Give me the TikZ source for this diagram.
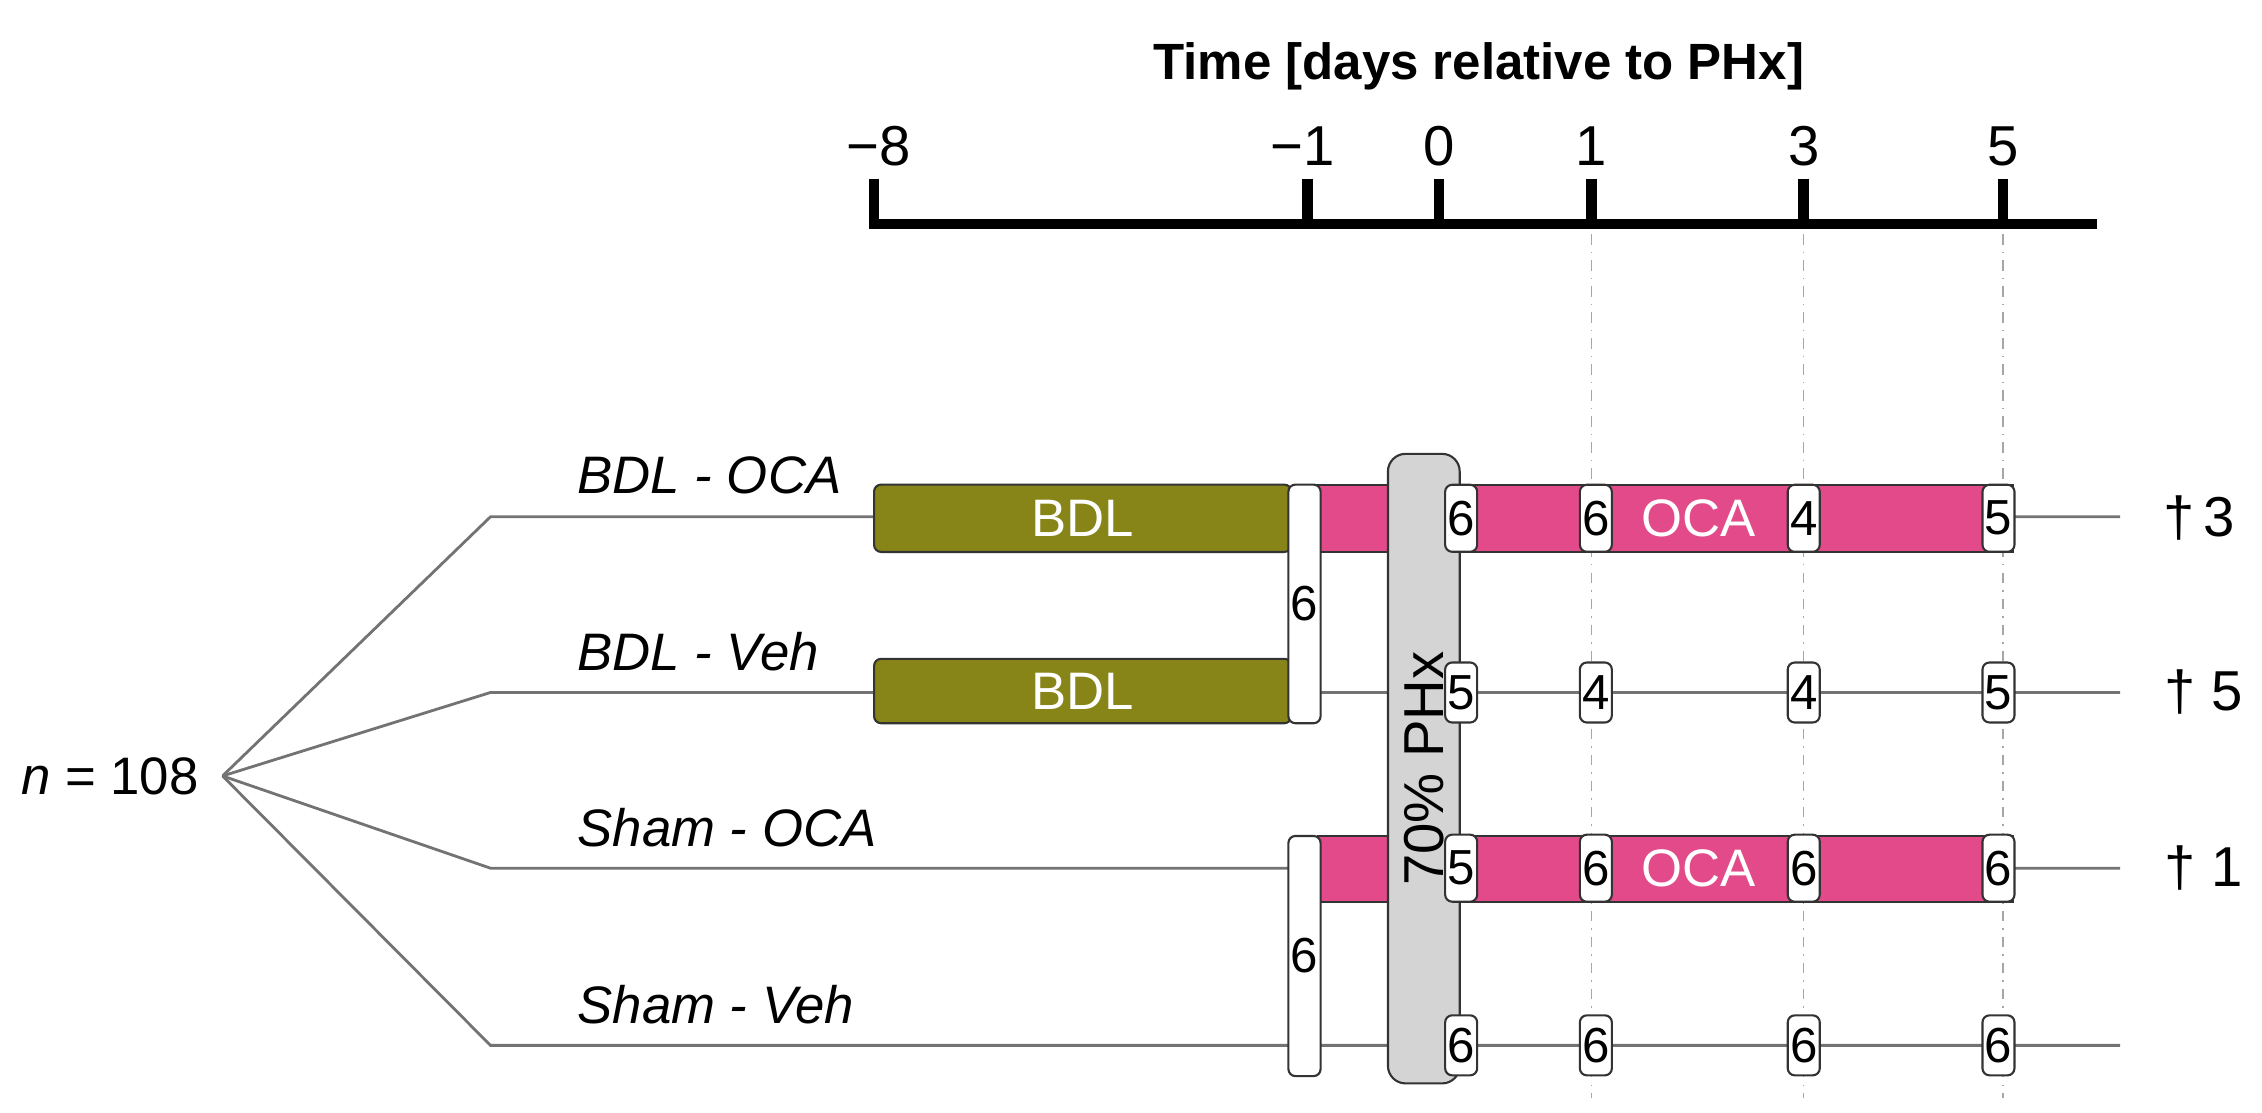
\documentclass[tikz,border=0pt]{standalone}
\usepackage{fontspec}
\setmainfont{Liberation Sans}
\usetikzlibrary{positioning}
\definecolor{olive}{HTML}{878518}
\definecolor{oca}{HTML}{E34A8A}
\tikzset{
  bar/.style={draw=black!80, line width=0.6pt, rounded corners=2pt},
  dose/.style={draw=black!80, fill=white, line width=0.6pt, rounded corners=2pt, minimum width=0.32cm, inner sep=0pt, font=\fontsize{14}{16}\selectfont},
  grp/.style={font=\itshape\fontsize{15}{17}\selectfont},
  row/.style={draw=black!55, line width=0.8pt},
  guide/.style={draw=black!35, dash dot, line width=0.4pt}
}
\begin{document}
\begin{tikzpicture}[x=0.01464cm, y=-0.01464cm, font=\fontsize{15}{17}\selectfont]
    \useasboundingbox (0,0) rectangle (1545,760);
    % Time axis
    \node[font=\bfseries\fontsize{14.5}{17}\selectfont] (title) at (1010,45) {Time [days relative to PHx]};
    \draw[line width=3pt] (597,122) -- (597,153) -- (1432,153);
    \foreach \x in {893,983,1087,1232,1368}
        \draw[line width=3pt] (\x,122) -- (\x,153);
    \foreach \x/\d in {600/−8, 890/−1, 983/0, 1087/1, 1232/3, 1368/5}
        \node[font=\fontsize{16}{18}\selectfont] (t\x) at (\x,100) {\d};
    % Guides
    \foreach \x in {1087,1232,1368}
        \draw[guide] (\x,160) -- (\x,750);
    % Groups
    \node (n) at (75,530) {\textit{n} = 108};
    \coordinate (fan) at (152,530);
    \foreach \y/\g [count=\i] in {353/BDL - OCA, 473/BDL - Veh, 593/Sham - OCA, 714/Sham - Veh}{
        \coordinate (g\i) at (335,\y);
        \coordinate (e\i) at (1448,\y);
        \node[grp, anchor=west] (lab\i) at (386,\y-28) {\g};
        \draw[row] (fan) -- (g\i) -- (e\i);
    }
    % Treatment bars
    \draw[bar, fill=olive] (597,331) rectangle node[white] (bdl1) {BDL} (882,377);
    \draw[bar, fill=olive] (597,450) rectangle node[white] (bdl2) {BDL} (882,494);
    \draw[bar, fill=oca, rounded corners=0pt] (900,331) rectangle (1375,377);
    \draw[bar, fill=oca, rounded corners=0pt] (900,571) rectangle (1375,616);
    \node[white] (oca1) at (1160,354) {OCA};
    \node[white] (oca3) at (1160,593) {OCA};
    \draw[bar, fill=white] (880,331) rectangle node[font=\fontsize{14}{16}\selectfont] (s1) {6} (902,494);
    \draw[bar, fill=white] (880,571) rectangle node[font=\fontsize{14}{16}\selectfont] (s3) {6} (902,735);
    % Hepatectomy
    \draw[bar, fill=black!17, rounded corners=5pt] (948,310) rectangle node[rotate=90, font=\fontsize{16}{18}\selectfont] (phx) {70\% PHx} (997,740);
    % Animal counts
    \foreach \y/\h/\a/\b/\c/\e [count=\i] in {354/0.67/6/6/4/5, 473/0.6/5/4/4/5, 593/0.67/5/6/6/6, 714/0.6/6/6/6/6}{
        \node[dose, minimum height=\h cm] (d\i a) at (998,\y) {\a};
        \node[dose, minimum height=\h cm] (d\i b) at (1090,\y) {\b};
        \node[dose, minimum height=\h cm] (d\i c) at (1232,\y) {\c};
        \node[dose, minimum height=\h cm] (d\i d) at (1365,\y) {\e};
    }
    % Deaths
    \node[font=\fontsize{16}{18}\selectfont] (x1) at (1502,354) {\dag\,3};
    \node[font=\fontsize{16}{18}\selectfont] (x2) at (1505,473) {\dag\ 5};
    \node[font=\fontsize{16}{18}\selectfont] (x3) at (1505,593) {\dag\ 1};
\end{tikzpicture}
\end{document}
